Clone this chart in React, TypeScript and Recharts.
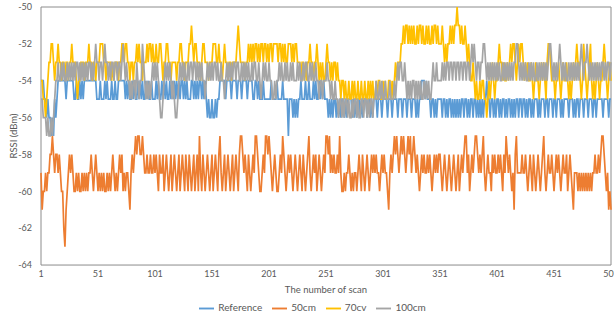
import { LineChart, Line, XAxis, YAxis, Legend, ReferenceArea } from 'recharts';

const scanTicks = [1, 51, 101, 151, 201, 251, 301, 351, 401, 451, 501];
const rssiTicks = [-64, -62, -60, -58, -56, -54, -52, -50];
const seriesOrder = ['Reference', '50cm', '70cv', '100cm'];

// one digit per scan in rows of 10 scans: value = base - digit
const referenceRows = [
  '4445565667', '6756544444', '4454444445', '5455454544', '4444444445',
  '5545554545', '5545545544', '4444545455', '4545545454', '5545455455',
  '5454554545', '4554545454', '5454454545', '5544545454', '4545456566',
  '5665655444', '4454444544', '4454445444', '4544445544', '5455545555',
  '5545555455', '5545555755', '5656565545', '5545545554', '5455454545',
  '5565656556', '5656556565', '5556565655', '6565556556', '5655565556',
  '5555655565', '5556555655', '5655565556', '5655444545', '5565565655',
  '5565565655', '6565656565', '5655656556', '5565656565', '5455655656',
  '5565655656', '5565656556', '5565565655', '6565556565', '5565565556',
  '5565556565', '5556555656', '5565556555', '6555655655', '5556555565',
  '5',
];

const cm50Rows = [
  '4655454433', '2343343455', '7865434345', '5454554545', '4544345434',
  '5454545545', '4543454543', '4354544564', '3432322332', '3443443443',
  '4345344354', '3454354345', '4354345345', '3454354352', '4534543454',
  '3543453245', '4354345435', '4345322343', '4534543422', '3455434223',
  '2345434554', '3423454343', '4543454345', '3454324543', '4354345434',
  '2232434344', '3424554544', '3454544543', '4534543454', '3434344543',
  '4344564343', '2323432323', '4323243234', '3454343443', '4345434343',
  '3454345434', '5434543543', '4322435434', '3223434324', '5434453434',
  '4343453423', '4345463244', '4434434543', '4534543454', '3245434434',
  '5434345434', '4354345644', '4545454545', '4545443443', '4322345465',
  '6',
];

const cv70Rows = [
  '4455654332', '2343323343', '3433433233', '3454433343', '3323343343',
  '3322233433', '3343433343', '3223223343', '3433232334', '3332322323',
  '3233223433', '2233433334', '3322334333', '2212322333', '4322333433',
  '3222332334', '3233433433', '3321233334', '3323232322', '3232232232',
  '3223222232', '2323233222', '3232233343', '3434332334', '3323434344',
  '3233434334', '3445445455', '4554545545', '5455455454', '5455454455',
  '4545544545', '4343332212', '1121212122', '1211212212', '1221211212',
  '2212323221', '2121101121', '2212323443', '4545545445', '5654543454',
  '4323343443', '4323223432', '3223434344', '3454344543', '4345322344',
  '4544345434', '4345454343', '2334542345', '4324545434', '5443234543',
  '4',
];

const cm100Rows = [
  '5566676776', '7654434434', '3443434343', '4334343434', '3433434323',
  '3433432334', '3433433433', '4323434454', '5445345442', '3454545434',
  '3434566543', '4343454566', '5434343443', '4334334343', '4344543434',
  '3433434434', '4543434343', '3433443434', '3434434334', '4345434344',
  '3445545443', '4344343443', '4344434344', '3433443434', '4344544544',
  '4344545545', '5655656556', '5665655656', '6556556565', '5655455454',
  '5545554555', '4543433443', '4545454454', '5454554545', '4554344344',
  '4434343343', '3433433433', '4334334323', '2343343322', '3434343434',
  '3434434343', '4343433223', '4343434434', '3434434343', '4343432234',
  '3434323434', '3443434343', '4343234332', '3434343434', '3433434334',
  '3',
];

const decode = (rows: string[], base: number) =>
  rows.join('').split('').map((d) => base - Number(d));

const reference = decode(referenceRows, -50);
const cm50 = decode(cm50Rows, -55);
const cv70 = decode(cv70Rows, -50);
const cm100 = decode(cm100Rows, -50);

const chartData = reference.map((value, i) => ({
  scan: i + 1,
  reference: value,
  cm50: cm50[i],
  cv70: cv70[i],
  cm100: cm100[i],
}));

const FONT = 'Lato, "Open Sans", sans-serif';
const TEXT = '#595959';

const YLabel = ({ viewBox }: any) => {
  const x = viewBox.x + 13;
  const y = viewBox.y + viewBox.height / 2;
  return (
    <text x={x} y={y} transform={`rotate(-90 ${x} ${y})`} textAnchor="middle" dominantBaseline="central"
      fontSize={9.5} fill={TEXT} fontFamily={FONT}>
      RSSI (dBm)
    </text>
  );
};

export default function App() {
  const tick = { fontSize: 9, fill: TEXT, fontFamily: FONT };

  return (
    <div style={{ position: 'absolute', left: 0, top: 0, background: '#fff' }}>
      <LineChart width={614} height={322} data={chartData} margin={{ top: 7, right: 3, left: 0, bottom: 6 }}>
        <XAxis
          dataKey="scan"
          type="number"
          domain={[1, 501]}
          ticks={scanTicks}
          tick={tick}
          tickLine={false}
          axisLine={false}
          tickSize={5}
          tickMargin={1}
          height={34}
          interval={0}
          label={{ value: 'The number of scan', position: 'insideBottom', offset: 6, fontSize: 9.5, fill: TEXT, fontFamily: FONT }}
        />
        <YAxis
          type="number"
          domain={[-64, -50]}
          ticks={rssiTicks}
          tick={tick}
          tickLine={false}
          axisLine={false}
          tickSize={6}
          tickMargin={3}
          width={41}
          interval={0}
          label={<YLabel />}
        />
        <ReferenceArea x1={1} x2={501} y1={-64} y2={-50} fill="none" stroke="#8c8c8c" strokeWidth={1} />
        <Legend
          verticalAlign="bottom"
          iconType="plainline"
          iconSize={15}
          itemSorter={(entry: any) => seriesOrder.indexOf(entry.value)}
          wrapperStyle={{ fontFamily: FONT, fontSize: 10, lineHeight: '16px', paddingLeft: 12 }}
          formatter={(value) => <span style={{ color: TEXT }}>{value}</span>}
        />
        <Line name="Reference" dataKey="reference" stroke="#5B9BD5" strokeWidth={1.7} dot={false} isAnimationActive={false} />
        <Line name="50cm" dataKey="cm50" stroke="#ED7D31" strokeWidth={1.7} dot={false} isAnimationActive={false} />
        <Line name="70cv" dataKey="cv70" stroke="#FFC000" strokeWidth={1.7} dot={false} isAnimationActive={false} />
        <Line name="100cm" dataKey="cm100" stroke="#A5A5A5" strokeWidth={1.7} dot={false} isAnimationActive={false} />
      </LineChart>
    </div>
  );
}
